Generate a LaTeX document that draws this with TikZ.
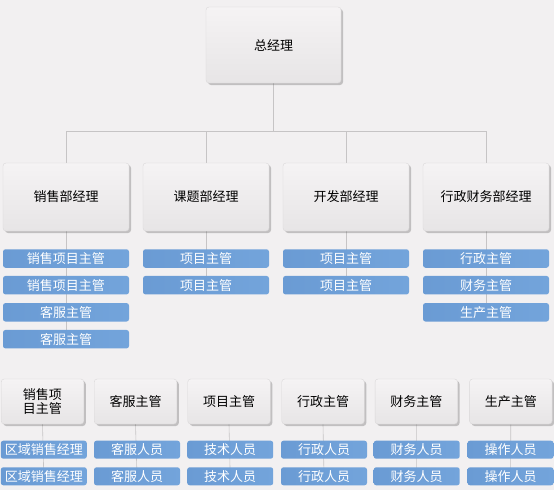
\documentclass[tikz,border=0pt]{standalone}
\usepackage{fontspec}
\newfontfamily\cjk{Noto Sans CJK SC}
\usetikzlibrary{shadows}
\definecolor{bgc}{HTML}{F2F0F1}
\definecolor{boxtop}{HTML}{F5F3F4}
\definecolor{boxbot}{HTML}{E7E5E6}
\definecolor{boxline}{HTML}{DAD8D9}
\definecolor{bluel}{HTML}{6A9BD4}
\definecolor{bluer}{HTML}{73A4DB}
\definecolor{linec}{HTML}{C6C4C5}
\pgfdeclarelayer{bg}
\pgfdeclarelayer{lines}
\pgfsetlayers{bg,lines,main}
\tikzset{
  gbox/.style={draw=boxline, line width=0.4pt, rounded corners=3pt,
    top color=boxtop, bottom color=boxbot, inner sep=0pt,
    font=\cjk\fontsize{13pt}{15pt}\selectfont, text=black, align=center,
    drop shadow={shadow xshift=2pt, shadow yshift=-2pt, opacity=0.35, fill=black!60}},
  bbar/.style={rounded corners=2.5pt, left color=bluel, right color=bluer,
    inner sep=0pt, minimum height=18.5pt, text=white,
    font=\cjk\fontsize{13pt}{15pt}\selectfont},
  conn/.style={draw=linec, line width=0.6pt}
}
\begin{document}
\begin{tikzpicture}[x=1pt,y=-1pt]
\begin{pgfonlayer}{bg}
\fill[bgc] (0,0) rectangle (554,490);
\end{pgfonlayer}
\useasboundingbox (0,0) rectangle (554,490);

% top
\node[gbox, minimum width=135pt, minimum height=76pt] (top) at (273.5,45) {总经理};
\coordinate (bus) at (273.5,131);

% departments
\foreach \n/\x/\t in {d1/66/销售部经理, d2/206/课题部经理, d3/346/开发部经理, d4/486/行政财务部经理}{
  \node[gbox, minimum width=126pt, minimum height=68pt] (\n) at (\x,197) {\t};
}

% blue bars under departments
\node[bbar, minimum width=126pt] (d1a) at (66,258.5) {销售项目主管};
\node[bbar, minimum width=126pt] (d1b) at (66,285.2) {销售项目主管};
\node[bbar, minimum width=126pt] (d1c) at (66,312.3) {客服主管};
\node[bbar, minimum width=126pt] (d1d) at (66,339.2) {客服主管};
\node[bbar, minimum width=126pt] (d2a) at (206,258.5) {项目主管};
\node[bbar, minimum width=126pt] (d2b) at (206,285.2) {项目主管};
\node[bbar, minimum width=126pt] (d3a) at (346,258.5) {项目主管};
\node[bbar, minimum width=126pt] (d3b) at (346,285.2) {项目主管};
\node[bbar, minimum width=126pt] (d4a) at (486,258.5) {行政主管};
\node[bbar, minimum width=126pt] (d4b) at (486,285.2) {财务主管};
\node[bbar, minimum width=126pt] (d4c) at (486,312.3) {生产主管};

% bottom row
\node[gbox, minimum width=82.5pt, minimum height=45pt, font=\cjk\fontsize{13pt}{14pt}\selectfont] (s1) at (42.5,401.5) {销售项\\目主管};
\node[gbox, minimum width=82.5pt, minimum height=45pt] (s2) at (135.5,401.5) {客服主管};
\node[gbox, minimum width=82.5pt, minimum height=45pt] (s3) at (229,401.5) {项目主管};
\node[gbox, minimum width=82.5pt, minimum height=45pt] (s4) at (323,401.5) {行政主管};
\node[gbox, minimum width=82.5pt, minimum height=45pt] (s5) at (416.3,401.5) {财务主管};
\node[gbox, minimum width=82.5pt, minimum height=45pt] (s6) at (510.8,401.5) {生产主管};

\foreach \n/\x/\t in {s1/43.8/区域销售经理, s2/137/客服人员, s3/230.2/技术人员, s4/324/行政人员, s5/416.7/财务人员, s6/510.5/操作人员}{
  \node[bbar, minimum width=86pt, minimum height=18pt] (\n a) at (\x,449.7) {\t};
  \node[bbar, minimum width=86pt, minimum height=18pt] (\n b) at (\x,476.3) {\t};
}

\begin{pgfonlayer}{lines}
\draw[conn] (top.south) -- (bus);
\foreach \n in {d1,d2,d3,d4}{ \draw[conn] (\n.north) |- (bus); }
\draw[conn] (d1.south) -- (d1d.center);
\draw[conn] (d2.south) -- (d2b.center);
\draw[conn] (d3.south) -- (d3b.center);
\draw[conn] (d4.south) -- (d4c.center);
\foreach \n in {s1,s2,s3,s4,s5,s6}{ \draw[conn] (\n.south) -- (\n b.center); }
\end{pgfonlayer}
\end{tikzpicture}
\end{document}
